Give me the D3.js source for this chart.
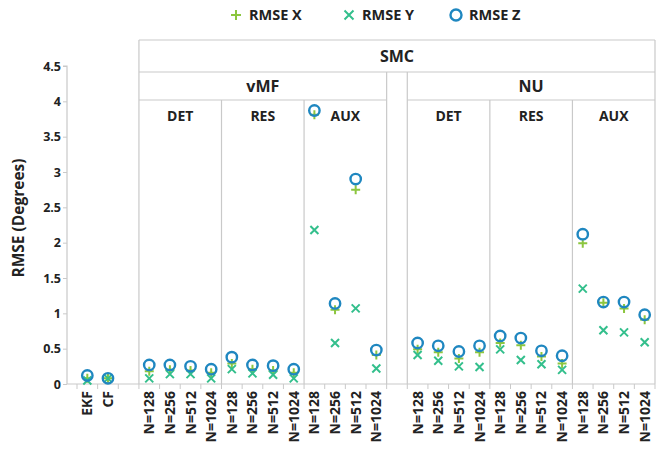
<!DOCTYPE html>
<html>
<head>
<meta charset="utf-8">
<script src="https://cdn.jsdelivr.net/npm/d3@7/dist/d3.min.js"></script>
<style>
  html, body { margin: 0; padding: 0; background: #fff; }
  svg { display: block; font-family: "Open Sans", "Noto Sans", sans-serif; }
</style>
</head>
<body>
<svg id="chart" width="660" height="455"></svg>
<script>
// ---------- DATA ----------
const categories = ["EKF", "CF", "",
  "N=128", "N=256", "N=512", "N=1024",
  "N=128", "N=256", "N=512", "N=1024",
  "N=128", "N=256", "N=512", "N=1024",
  "",
  "N=128", "N=256", "N=512", "N=1024",
  "N=128", "N=256", "N=512", "N=1024",
  "N=128", "N=256", "N=512", "N=1024"];

const rmseX = [0.08, 0.08, null,
  0.18, 0.20, 0.19, 0.16,
  0.29, 0.21, 0.19, 0.16,
  3.81, 1.05, 2.75, 0.41,
  null,
  0.49, 0.45, 0.36, 0.45,
  0.58, 0.55, 0.39, 0.29,
  1.99, 1.15, 1.07, 0.91];

const rmseY = [0.05, 0.08, null,
  0.08, 0.14, 0.14, 0.08,
  0.21, 0.15, 0.13, 0.08,
  2.18, 0.58, 1.07, 0.22,
  null,
  0.41, 0.33, 0.25, 0.24,
  0.49, 0.34, 0.28, 0.20,
  1.35, 0.76, 0.73, 0.59];

const rmseZ = [0.12, 0.08, null,
  0.27, 0.27, 0.25, 0.21,
  0.38, 0.27, 0.26, 0.21,
  3.87, 1.14, 2.90, 0.48,
  null,
  0.58, 0.54, 0.46, 0.54,
  0.68, 0.65, 0.47, 0.40,
  2.12, 1.16, 1.16, 0.98];

const yTicks = [0, 0.5, 1, 1.5, 2, 2.5, 3, 3.5, 4, 4.5];
const seriesNames = ["RMSE X", "RMSE Y", "RMSE Z"];
// header groups: [label, first slot index, last slot index]
const headerRow1 = [["SMC", 3, 27]];
const headerRow2 = [["vMF", 3, 14], ["NU", 16, 27]];
const headerRow3 = [["DET", 3, 6], ["RES", 7, 10], ["AUX", 11, 14],
                    ["DET", 16, 19], ["RES", 20, 23], ["AUX", 24, 27]];

// ---------- LAYOUT ----------
const svg = d3.select("#chart");
const axisX = 67, plotRight = 655, y0 = 384, yTop = 66;
const colors = { x: "#8cc63f", y: "#33bf8c", z: "#1f87c0" };
const gridCol = "#c9c9c9";

const ids = categories.map((c, i) => i);
const x = d3.scaleBand().domain(ids).range([77, plotRight]).paddingInner(0).paddingOuter(0);
const y = d3.scaleLinear().domain([0, 4.5]).range([y0, yTop]);
const bx = k => 77 + k * x.step(); // slot boundary

// ---------- HEADER BOXES ----------
const rowY = [40, 72, 100];
const g = svg.append("g").attr("stroke", gridCol).attr("stroke-width", 1.2).attr("fill", "none");
g.append("line").attr("x1", bx(3)).attr("x2", bx(28)).attr("y1", rowY[0]).attr("y2", rowY[0]);
g.append("line").attr("x1", bx(3)).attr("x2", bx(28)).attr("y1", rowY[1]).attr("y2", rowY[1]);
headerRow2.forEach(h => {
  g.append("line").attr("x1", bx(h[1])).attr("x2", bx(h[2] + 1)).attr("y1", rowY[2]).attr("y2", rowY[2]);
});
[3, 28].forEach(k => g.append("line").attr("x1", bx(k)).attr("x2", bx(k)).attr("y1", rowY[0]).attr("y2", y0));
[15, 16].forEach(k => g.append("line").attr("x1", bx(k)).attr("x2", bx(k)).attr("y1", rowY[1]).attr("y2", y0));
[7, 11, 20, 24].forEach(k => g.append("line").attr("x1", bx(k)).attr("x2", bx(k)).attr("y1", rowY[2]).attr("y2", y0));

const headText = (arr, yy, size) => arr.forEach(h => {
  svg.append("text").attr("x", (bx(h[1]) + bx(h[2] + 1)) / 2).attr("y", yy)
    .attr("text-anchor", "middle").attr("font-size", size).attr("font-weight", 700)
    .attr("fill", "#222").text(h[0]);
});
headText(headerRow1, 62, 16);
headText(headerRow2, 92, 16);
headText(headerRow3, 121, 14);

// ---------- AXES ----------
const yAxis = d3.axisLeft(y).tickValues(yTicks).tickSize(4).tickFormat(d3.format("~g"));
const ya = svg.append("g").attr("transform", `translate(${axisX},0)`).call(yAxis);
ya.select(".domain").attr("stroke", gridCol).attr("stroke-width", 1.2).attr("d", `M-4,${yTop}H0V${y0}`);
ya.selectAll(".tick line").attr("stroke", gridCol);
ya.selectAll(".tick text").attr("font-size", 12.5).attr("font-weight", 700).attr("fill", "#222")
  .attr("font-family", "'Open Sans', sans-serif").attr("x", -6);

svg.append("line").attr("x1", axisX).attr("x2", plotRight).attr("y1", y0).attr("y2", y0)
  .attr("stroke", gridCol).attr("stroke-width", 1.2);
d3.range(0, 29).forEach(k => {
  svg.append("line").attr("x1", bx(k)).attr("x2", bx(k)).attr("y1", y0).attr("y2", y0 + 5)
    .attr("stroke", gridCol).attr("stroke-width", 1);
});
svg.append("g").selectAll("text").data(ids.filter(i => categories[i] !== "")).join("text")
  .attr("transform", i => `translate(${x(i) + x.bandwidth() / 2 + 5},${y0 + 7}) rotate(-90)`)
  .attr("text-anchor", "end").attr("font-size", 14).attr("font-weight", 700).attr("fill", "#222")
  .text(i => categories[i]);

svg.append("text").attr("transform", `translate(24,218) rotate(-90)`)
  .attr("text-anchor", "middle").attr("font-size", 15.5).attr("font-weight", 700).attr("fill", "#222")
  .text("RMSE (Degrees)");

// ---------- MARKERS ----------
const cx = i => x(i) + x.bandwidth() / 2;
const plusPath = s => `M${-s},0H${s}M0,${-s}V${s}`;
const crossPath = s => `M${-s},${-s}L${s},${s}M${-s},${s}L${s},${-s}`;

svg.append("g").selectAll("path").data(ids.filter(i => rmseX[i] != null)).join("path")
  .attr("d", plusPath(4.5)).attr("transform", i => `translate(${cx(i)},${y(rmseX[i])})`)
  .attr("stroke", colors.x).attr("stroke-width", 2).attr("fill", "none");
svg.append("g").selectAll("path").data(ids.filter(i => rmseY[i] != null)).join("path")
  .attr("d", crossPath(4)).attr("transform", i => `translate(${cx(i)},${y(rmseY[i])})`)
  .attr("stroke", colors.y).attr("stroke-width", 2).attr("fill", "none");
svg.append("g").selectAll("circle").data(ids.filter(i => rmseZ[i] != null)).join("circle")
  .attr("cx", cx).attr("cy", i => y(rmseZ[i])).attr("r", 5.2)
  .attr("stroke", colors.z).attr("stroke-width", 2.4).attr("fill", "none");

// ---------- LEGEND ----------
const legendItems = [
  { name: seriesNames[0], x: 236, kind: "plus", color: colors.x },
  { name: seriesNames[1], x: 349, kind: "cross", color: colors.y },
  { name: seriesNames[2], x: 456, kind: "circle", color: colors.z }
];
const ly = 15;
legendItems.forEach(it => {
  if (it.kind === "plus") svg.append("path").attr("d", plusPath(5)).attr("transform", `translate(${it.x},${ly})`)
    .attr("stroke", it.color).attr("stroke-width", 2).attr("fill", "none");
  if (it.kind === "cross") svg.append("path").attr("d", crossPath(4.5)).attr("transform", `translate(${it.x},${ly})`)
    .attr("stroke", it.color).attr("stroke-width", 2).attr("fill", "none");
  if (it.kind === "circle") svg.append("circle").attr("cx", it.x).attr("cy", ly).attr("r", 5.5)
    .attr("stroke", it.color).attr("stroke-width", 2.4).attr("fill", "none");
  svg.append("text").attr("x", it.x + 13).attr("y", ly + 5).attr("font-size", 14.5).attr("font-weight", 700)
    .attr("fill", "#222").text(it.name);
});
</script>
</body>
</html>
